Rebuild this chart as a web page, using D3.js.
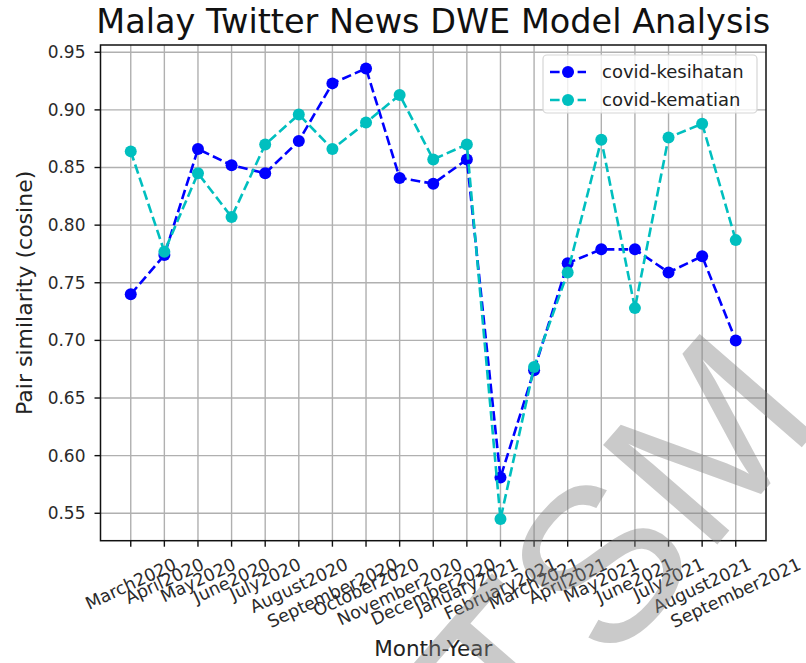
<!doctype html>
<html>
<head>
<meta charset="utf-8">
<script src="https://d3js.org/d3.v7.min.js"></script>
<title>Malay Twitter News DWE Model Analysis</title>
<style>
  body { margin: 0; background: #fff; }
  svg { display: block; font-family: "DejaVu Sans", sans-serif; }
</style>
</head>
<body>
<svg width="806" height="663"></svg>
<script>

var months = ["March2020", "April2020", "May2020", "June2020", "July2020", "August2020",
              "September2020", "October2020", "November2020", "December2020", "January2021",
              "February2021", "March2021", "April2021", "May2021", "June2021", "July2021",
              "August2021", "September2021"];

var kesihatan = [0.740, 0.774, 0.866, 0.852, 0.845, 0.873, 0.923, 0.936, 0.841, 0.836,
                 0.857, 0.581, 0.674, 0.767, 0.779, 0.779, 0.759, 0.773, 0.700];

var kematian = [0.864, 0.777, 0.845, 0.807, 0.870, 0.896, 0.866, 0.889, 0.913, 0.857,
                0.870, 0.545, 0.677, 0.759, 0.874, 0.728, 0.876, 0.888, 0.787];

var yTicks = [0.55, 0.60, 0.65, 0.70, 0.75, 0.80, 0.85, 0.90, 0.95];

var seriesNames = ["covid-kesihatan", "covid-kematian"];
var seriesColors = ["#0000ff", "#00bfbf"];

var svg = d3.select("svg"),
    pLeft = 100.5, pRight = 766, pTop = 45, pBottom = 540.7;

var xScale = d3.scalePoint().domain(months).range([pLeft, pRight]).padding(0.9),
    yScale = d3.scaleLinear().domain([0.5262, 0.9563]).range([pBottom, pTop]);

// grid
var grid = svg.append("g").attr("stroke", "#b0b0b0").attr("stroke-width", 1.4);
grid.selectAll(".vg").data(months).enter().append("line")
    .attr("x1", function(d) { return xScale(d); })
    .attr("x2", function(d) { return xScale(d); })
    .attr("y1", pTop).attr("y2", pBottom);
grid.selectAll(".hg").data(yTicks).enter().append("line")
    .attr("x1", pLeft).attr("x2", pRight)
    .attr("y1", function(d) { return yScale(d); })
    .attr("y2", function(d) { return yScale(d); });

// lines + markers
var line = d3.line()
    .x(function(d, i) { return xScale(months[i]); })
    .y(function(d) { return yScale(d); });

[kesihatan, kematian].forEach(function(vals, k) {
    svg.append("path")
       .datum(vals)
       .attr("d", line)
       .attr("fill", "none")
       .attr("stroke", seriesColors[k])
       .attr("stroke-width", 2.6)
       .attr("stroke-dasharray", "9.6,4.2");
    svg.append("g").selectAll("circle")
       .data(vals)
       .enter().append("circle")
       .attr("cx", function(d, i) { return xScale(months[i]); })
       .attr("cy", function(d) { return yScale(d); })
       .attr("r", 6)
       .attr("fill", seriesColors[k]);
});

// axes frame
svg.append("rect")
   .attr("x", pLeft).attr("y", pTop)
   .attr("width", pRight - pLeft).attr("height", pBottom - pTop)
   .attr("fill", "none").attr("stroke", "#111").attr("stroke-width", 1.5);

// y ticks
var yt = svg.append("g").selectAll("g").data(yTicks).enter().append("g")
    .attr("transform", function(d) { return "translate(0," + yScale(d) + ")"; });
yt.append("line").attr("x1", pLeft - 6).attr("x2", pLeft).attr("stroke", "#111").attr("stroke-width", 1.4);
yt.append("text")
  .attr("x", pLeft - 15).attr("dy", "0.35em")
  .attr("text-anchor", "end")
  .attr("font-size", "17px").attr("fill", "#2a2a2a")
  .text(function(d) { return d.toFixed(2); });

// x ticks
var xt = svg.append("g").selectAll("g").data(months).enter().append("g");
xt.append("line")
  .attr("x1", function(d) { return xScale(d); })
  .attr("x2", function(d) { return xScale(d); })
  .attr("y1", pBottom).attr("y2", pBottom + 6)
  .attr("stroke", "#111").attr("stroke-width", 1.4);
var ang = 25 * Math.PI / 180;
xt.append("text")
  .attr("font-size", "17.5px").attr("fill", "#2a2a2a")
  .attr("text-anchor", "middle")
  .attr("dy", "0.35em")
  .text(function(d) { return d; })
  .attr("transform", function(d) {
      var w = this.getComputedTextLength(),
          h = 17.5 * 1.17,
          bh = w * Math.sin(ang) + h * Math.cos(ang);
      return "translate(" + xScale(d) + "," + (pBottom + 13 + bh / 2) + ") rotate(-25)";
  });

// labels
svg.append("text")
   .attr("x", (pLeft + pRight) / 2).attr("y", 33)
   .attr("text-anchor", "middle")
   .attr("font-size", "33.5px").attr("fill", "#111")
   .text("Malay Twitter News DWE Model Analysis");

svg.append("text")
   .attr("x", (pLeft + pRight) / 2).attr("y", 656)
   .attr("text-anchor", "middle")
   .attr("font-size", "21.5px").attr("fill", "#222")
   .text("Month-Year");

svg.append("text")
   .attr("transform", "translate(32," + (pTop + pBottom) / 2 + ") rotate(-90)")
   .attr("text-anchor", "middle")
   .attr("font-size", "22px").attr("fill", "#222")
   .text("Pair similarity (cosine)");

// legend
var lg = svg.append("g");
lg.append("rect")
  .attr("x", 543).attr("y", 55).attr("width", 214).attr("height", 58).attr("rx", 4)
  .attr("fill", "#fff").attr("fill-opacity", 0.8)
  .attr("stroke", "#d6d6d6").attr("stroke-width", 1.2);
seriesNames.forEach(function(name, k) {
    var yy = 72 + k * 28;
    lg.append("line")
      .attr("x1", 550).attr("x2", 586).attr("y1", yy).attr("y2", yy)
      .attr("stroke", seriesColors[k]).attr("stroke-width", 2.6)
      .attr("stroke-dasharray", "9.6,4.2");
    lg.append("circle").attr("cx", 568).attr("cy", yy).attr("r", 6).attr("fill", seriesColors[k]);
    lg.append("text")
      .attr("x", 602).attr("y", yy).attr("dy", "0.35em")
      .attr("font-size", "18px").attr("fill", "#222")
      .text(name);
});

// watermark
var wmSize = 220;
svg.append("text")
   .attr("transform", "translate(570,594) rotate(-49)")
   .attr("y", wmSize * 0.358)
   .attr("text-anchor", "middle")
   .attr("font-family", "Liberation Sans, Arial, sans-serif")
   .attr("font-size", wmSize + "px")
   .attr("fill", "#808080").attr("fill-opacity", 0.42)
   .attr("pointer-events", "none")
   .text("FTSM");

</script>
</body>
</html>
